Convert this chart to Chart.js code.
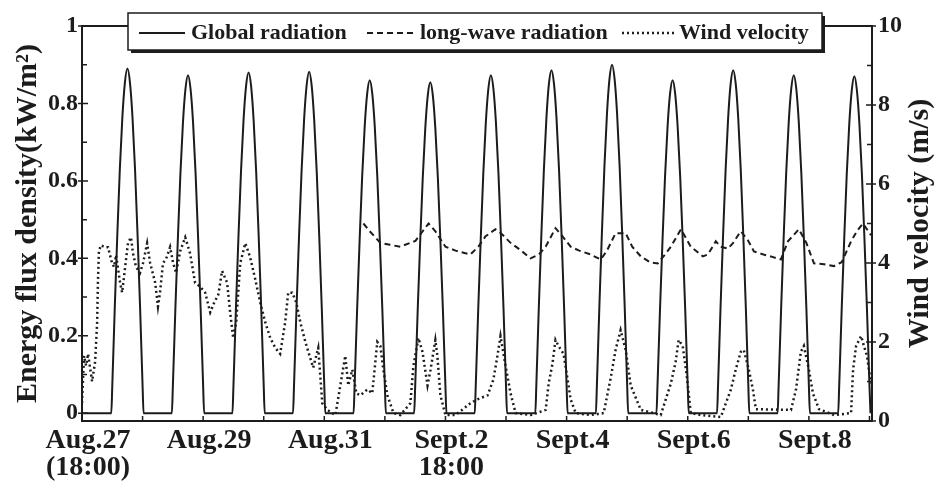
<!DOCTYPE html>
<html>
<head>
<meta charset="utf-8">
<script src="https://cdn.jsdelivr.net/npm/chart.js@4.4.1/dist/chart.umd.min.js"></script>
<style>
  html, body { margin: 0; padding: 0; background: #fff; }
  #wrap { width: 943px; height: 491px; }
</style>
</head>
<body>
<div id="wrap"><canvas id="chart" width="943" height="491"></canvas></div>
<script>
// hours counted from Aug.27 18:00
const dayLabels = ['Aug.27', 'Aug.29', 'Aug.31', 'Sept.2', 'Sept.4', 'Sept.6', 'Sept.8'];
const dayLabelHours = [0, 48, 96, 144, 192, 240, 288];
const dayLabelSub = ['(18:00)', '', '', '18:00', '', '', ''];

// global radiation, kW/m2, read at these clock hours each day (Aug.28 .. Sept.9)
const dayHours = [5.6, 6, 7, 8, 9, 10, 11, 12, 13, 14, 15, 16, 17, 18, 18.4];
const globalDays = [
  [0, .071, .276, .463, .632, .765, .854, .890, .854, .765, .632, .463, .276, .071, 0],
  [0, .070, .271, .454, .620, .751, .838, .873, .838, .751, .620, .454, .271, .070, 0],
  [0, .070, .273, .458, .625, .757, .845, .880, .845, .757, .625, .458, .273, .070, 0],
  [0, .071, .273, .459, .626, .759, .847, .882, .846, .757, .624, .457, .272, .070, 0],
  [0, .069, .267, .447, .611, .740, .826, .860, .826, .740, .611, .447, .267, .069, 0],
  [0, .068, .265, .445, .607, .735, .821, .855, .821, .735, .607, .445, .265, .068, 0],
  [0, .070, .271, .454, .620, .751, .838, .873, .838, .751, .620, .454, .271, .070, 0],
  [0, .071, .275, .461, .629, .762, .851, .886, .851, .762, .629, .461, .275, .071, 0],
  [0, .072, .279, .468, .639, .774, .864, .900, .864, .774, .639, .468, .279, .072, 0],
  [0, .069, .267, .447, .611, .740, .826, .860, .826, .740, .611, .447, .267, .069, 0],
  [0, .071, .275, .461, .629, .762, .851, .886, .851, .762, .629, .461, .275, .071, 0],
  [0, .070, .271, .454, .620, .751, .838, .873, .838, .751, .620, .454, .271, .070, 0],
  [0, .070, .270, .452, .618, .748, .835, .870, .835, .748, .618, .452, .270, .070, 0]
];

// long-wave radiation, kW/m2
const lwHours = [111.5, 114, 118.2, 122, 126.1, 130, 132.1, 135, 137.3, 140, 144, 148, 153.9, 157, 159.9,
  163.8, 166, 169.8, 174, 177.7, 181, 183.7, 187.6, 190, 193.6, 197, 201.5, 205.5, 208, 211.4, 215.4,
  218, 221.4, 225, 228.1, 231, 233.3, 237.3, 241.2, 246, 248, 251.1, 253, 255.9, 258, 261, 264, 266.2,
  270, 272.9, 276.9, 279.7, 284, 287, 290, 294, 297.9, 301, 304.7, 307, 309.4, 312.6];
const lwValues = [0.49, 0.47, 0.44, 0.435, 0.43, 0.44, 0.445, 0.47, 0.49, 0.47, 0.43, 0.42, 0.41, 0.43, 0.457,
  0.475, 0.465, 0.44, 0.42, 0.40, 0.41, 0.43, 0.478, 0.46, 0.43, 0.42, 0.41, 0.397, 0.42, 0.465, 0.465,
  0.43, 0.405, 0.39, 0.387, 0.41, 0.43, 0.475, 0.43, 0.405, 0.41, 0.444, 0.43, 0.425, 0.44, 0.47, 0.445, 0.418,
  0.41, 0.405, 0.397, 0.444, 0.475, 0.44, 0.387, 0.385, 0.38, 0.39, 0.444, 0.47, 0.49, 0.46];

// wind velocity, m/s
const windHours = [0, 0.8, 1.6, 2.4, 4.0, 5.2, 6.0, 6.3, 6.7, 7.5, 9.1, 10.3, 11.9, 12.7, 13.5, 15.1, 15.9,
  17.1, 18.2, 19.4, 20.2, 21.4, 23.0, 24.2, 25.8, 27.0, 29.0, 30.1, 30.9, 32.1, 33.3, 34.9, 36.1, 37.3,
  38.9, 40.9, 42.8, 44.8, 46.8, 48.8, 50.8, 52.4, 54.0, 55.5, 57.5, 58.7, 59.9, 61.1, 62.7, 64.7, 66.6,
  68.6, 70.6, 72.6, 74.6, 76.6, 78.5, 80.5, 81.7, 83.3, 84.9, 86.5, 88.5, 90.4, 91.6, 93.6, 95.2, 97.2,
  100.4, 104.3, 105.5, 107.1, 108.7, 110.3, 113.1, 115.0, 117.0, 118.2, 119.4, 121.0, 123.4, 126.1,
  130.1, 131.3, 133.3, 134.9, 136.9, 138.1, 140.0, 140.8, 142.0, 144.0, 148.0, 153.9, 156.7, 160.7,
  163.0, 164.6, 165.8, 167.8, 169.8, 171.8, 177.7, 183.7, 184.9, 186.4, 187.6, 188.8, 190.8, 193.6,
  195.6, 201.5, 206.7, 209.5, 211.4, 213.4, 215.4, 217.4, 221.4, 229.3, 231.3, 233.3, 235.2, 236.4,
  238.0, 239.6, 241.2, 245.2, 253.1, 255.1, 257.1, 259.0, 261.0, 262.2, 264.2, 265.8, 267.0, 280.9,
  282.9, 284.8, 286.0, 288.0, 289.6, 292, 298, 304.7, 305.5, 306.7, 308.7, 309.8, 311.0, 312.6];
const windValues = [0.46, 1.65, 1.4, 1.7, 1.0, 1.5, 2.5, 3.5, 4.3, 4.45, 4.4, 4.4, 4.0, 3.9, 4.2, 3.5, 3.25,
  3.9, 4.5, 4.65, 4.25, 3.9, 3.75, 4.0, 4.5, 4.0, 3.5, 2.9, 3.25, 4.0, 4.1, 4.4, 4.0, 3.75,
  4.3, 4.65, 4.25, 3.5, 3.4, 3.25, 2.75, 3.0, 3.2, 3.8, 3.5, 2.75, 2.1, 2.5, 4.0, 4.5, 4.15,
  3.6, 3.0, 2.5, 2.1, 1.85, 1.7, 2.5, 3.25, 3.25, 3.0, 2.5, 2.0, 1.6, 1.35, 1.85, 0.45, 0.28,
  0.15, 1.65, 0.9, 1.3, 0.7, 0.65, 0.8, 0.7, 2.0, 1.9, 1.3, 0.65, 0.2, 0.15,
  0.45, 1.4, 2.1, 1.75, 0.9, 1.3, 2.05, 1.65, 0.65, 0.15, 0.15, 0.45, 0.55, 0.65,
  1.05, 1.65, 2.15, 1.4, 0.7, 0.2, 0.15, 0.28, 0.95, 1.45, 2.05, 1.9, 1.7, 0.55,
  0.2, 0.15, 0.2, 1.1, 1.8, 2.3, 1.8, 0.9, 0.28, 0.15, 0.55, 0.95, 1.5, 2.05,
  1.9, 1.15, 0.2, 0.15, 0.1, 0.45, 0.8, 1.3, 1.75, 1.8, 1.3, 0.8, 0.3, 0.28,
  0.8, 1.75, 1.9, 1.3, 0.7, 0.3, 0.15, 0.2, 1.3, 1.9, 2.15, 1.9, 1.65, 0.95];

const ink = '#1c1c1c';
const serif = '"Liberation Serif", "DejaVu Serif", serif';

const globalPts = [{ x: 0, y: 0 }];
globalDays.forEach((vals, k) => {
  vals.forEach((v, i) => globalPts.push({ x: 6 + 24 * k + dayHours[i], y: v }));
});
const lwPts = lwHours.map((h, i) => ({ x: h, y: lwValues[i] }));
const windPts = windHours.map((h, i) => ({ x: h, y: windValues[i] }));

// frame, inward tick marks, right title and boxed legend
const decorations = {
  id: 'decorations',
  afterDatasetsDraw(chart) {
    const { ctx, chartArea: a, scales } = chart;
    ctx.save();
    ctx.strokeStyle = ink;
    ctx.lineWidth = 2;
    ctx.strokeRect(a.left, a.top, a.right - a.left, a.bottom - a.top);

    ctx.lineWidth = 1.5;
    ctx.beginPath();
    for (let i = 0; i <= 10; i++) {
      const y = scales.y.getPixelForValue(i / 10);
      const major = i % 2 === 0;
      ctx.moveTo(a.left - (major ? 4 : 0), y);
      ctx.lineTo(a.left + (major ? 6 : 5), y);
      const y1 = scales.y1.getPixelForValue(i);
      ctx.moveTo(a.right + (major ? 4 : 0), y1);
      ctx.lineTo(a.right - (major ? 6 : 5), y1);
    }
    for (let h = 24; h < 313; h += 24) {
      const x = scales.x.getPixelForValue(h);
      ctx.moveTo(x, a.bottom);
      ctx.lineTo(x, a.bottom - 5);
    }
    ctx.stroke();

    // right axis title, reading upward
    ctx.fillStyle = ink;
    ctx.font = 'bold 30px ' + serif;
    ctx.textAlign = 'center';
    ctx.textBaseline = 'middle';
    ctx.translate(920, (a.top + a.bottom) / 2);
    ctx.rotate(-Math.PI / 2);
    ctx.fillText('Wind velocity (m/s)', 0, 0);
    ctx.restore();

    // legend box
    ctx.save();
    const bx = 128, by = 13, bw = 694, bh = 37;
    ctx.fillStyle = '#fff';
    ctx.fillRect(bx, by, bw + 3, bh + 3);
    ctx.fillStyle = ink;
    ctx.fillRect(bx + 3, by + bh, bw, 3);
    ctx.fillRect(bx + bw, by + 3, 3, bh);
    ctx.strokeStyle = ink;
    ctx.lineWidth = 1.5;
    ctx.strokeRect(bx, by, bw, bh);

    const items = [
      { x0: 139, x1: 185, tx: 191 },
      { x0: 367, x1: 415, tx: 420 },
      { x0: 622, x1: 676, tx: 679 }
    ];
    ctx.font = 'bold 22px ' + serif;
    ctx.textAlign = 'left';
    ctx.textBaseline = 'middle';
    chart.data.datasets.forEach((ds, i) => {
      const it = items[i];
      ctx.beginPath();
      ctx.lineWidth = ds.borderWidth;
      ctx.setLineDash(ds.borderDash || []);
      ctx.moveTo(it.x0, 33);
      ctx.lineTo(it.x1, 33);
      ctx.stroke();
      ctx.setLineDash([]);
      ctx.fillText(ds.label, it.tx, 33);
    });
    ctx.restore();
  }
};

new Chart(document.getElementById('chart'), {
  type: 'line',
  data: {
    datasets: [
      {
        label: 'Global radiation',
        data: globalPts,
        yAxisID: 'y',
        borderColor: ink,
        borderWidth: 2,
        pointRadius: 0,
        cubicInterpolationMode: 'monotone'
      },
      {
        label: 'long-wave radiation',
        data: lwPts,
        yAxisID: 'y',
        borderColor: ink,
        borderWidth: 2,
        borderDash: [6, 4],
        pointRadius: 0,
        tension: 0
      },
      {
        label: 'Wind velocity',
        data: windPts,
        yAxisID: 'y1',
        borderColor: ink,
        borderWidth: 2.5,
        borderDash: [2, 3],
        pointRadius: 0,
        tension: 0
      }
    ]
  },
  options: {
    responsive: false,
    animation: false,
    layout: { padding: { top: 26, left: 0, right: 0, bottom: 0 } },
    plugins: {
      legend: { display: false },
      tooltip: { enabled: false }
    },
    scales: {
      x: {
        type: 'linear',
        min: 0,
        max: 313,
        grid: { display: false, drawTicks: false },
        border: { display: false },
        afterBuildTicks: s => { s.ticks = dayLabelHours.map(v => ({ value: v })); },
        afterFit: s => { s.height = 70; },
        ticks: {
          color: ink,
          padding: 6,
          labelOffset: 6,
          maxRotation: 0,
          font: { family: serif, size: 28, weight: 'bold', lineHeight: 0.98 },
          callback: v => {
            const i = dayLabelHours.indexOf(v);
            if (i < 0) return '';
            return dayLabelSub[i] ? [dayLabels[i], dayLabelSub[i]] : dayLabels[i];
          }
        }
      },
      y: {
        position: 'left',
        min: -0.02,
        max: 1,
        grid: { display: false, drawTicks: false },
        border: { display: false },
        afterBuildTicks: s => { s.ticks = [0, 0.2, 0.4, 0.6, 0.8, 1].map(v => ({ value: v })); },
        afterFit: s => { s.width = 82; },
        title: {
          display: true,
          text: 'Energy flux density(kW/m²)',
          color: ink,
          padding: { top: 13, bottom: 0 },
          font: { family: serif, size: 30, weight: 'bold', lineHeight: 1.0 }
        },
        ticks: {
          color: ink,
          padding: 4,
          font: { family: serif, size: 24, weight: 'bold' },
          callback: v => (v === 0 || v === 1) ? String(v) : v.toFixed(1)
        }
      },
      y1: {
        position: 'right',
        min: 0,
        max: 10,
        grid: { display: false, drawTicks: false },
        border: { display: false },
        afterFit: s => { s.width = 71; },
        ticks: {
          color: ink,
          padding: 6,
          stepSize: 2,
          font: { family: serif, size: 24, weight: 'bold' }
        }
      }
    }
  },
  plugins: [decorations]
});
</script>
</body>
</html>
